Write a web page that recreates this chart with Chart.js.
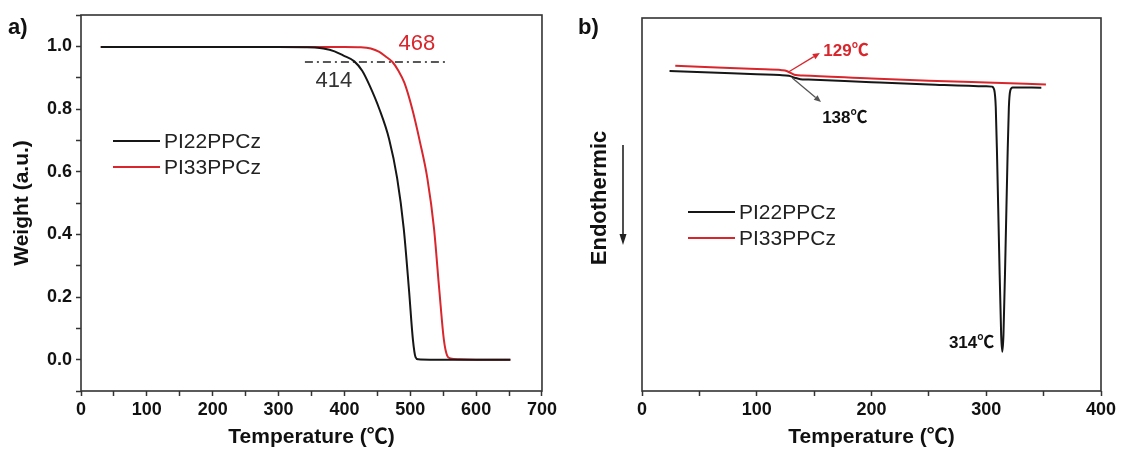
<!DOCTYPE html>
<html>
<head>
<meta charset="utf-8">
<script src="https://cdn.jsdelivr.net/npm/chart.js@4.4.1/dist/chart.umd.min.js"></script>
<style>
  html, body { margin: 0; padding: 0; background: #fff; }
  #wrap { position: relative; width: 1123px; height: 450px; overflow: hidden; }
  #c1 { position: absolute; left: 0; top: 0; }
  #c2 { position: absolute; left: 560px; top: 0; }
</style>
</head>
<body>
<div id="wrap">
  <canvas id="c1" width="560" height="450"></canvas>
  <canvas id="c2" width="563" height="450"></canvas>
</div>
<script>
// ---------- DATA ----------
const seriesNames = ['PI22PPCz', 'PI33PPCz'];

// (a) TGA
const tgaTempPI22   = [30, 100, 200, 300, 340, 355, 368, 385, 398, 415, 427, 438, 453, 468, 480, 490, 498, 504, 508, 512, 530, 580, 652];
const tgaWeightPI22 = [0.998, 0.998, 0.998, 0.998, 0.997, 0.996, 0.993, 0.984, 0.971, 0.952, 0.922, 0.876, 0.80, 0.703, 0.58, 0.42, 0.224, 0.064, 0.008, 0.001, 0, 0, 0];
const tgaTempPI33   = [30, 100, 200, 300, 400, 425, 440, 453, 463, 473, 482, 491, 503, 515, 526, 536, 544, 551, 556, 561, 575, 600, 652];
const tgaWeightPI33 = [0.998, 0.998, 0.998, 0.998, 0.998, 0.997, 0.993, 0.982, 0.967, 0.95, 0.922, 0.884, 0.80, 0.692, 0.578, 0.42, 0.224, 0.064, 0.013, 0.004, 0.001, 0, 0];
const t5Temps  = [340, 553];
const t5Weight = [0.95, 0.95];
const t5Labels = ['414', '468'];

// (b) DSC (arbitrary heat-flow units)
const dscTempPI22 = [24, 60, 100, 120, 128, 133, 138, 145, 200, 250, 300, 305, 307, 308.3, 309.5, 311.2, 313, 314, 315, 316.8, 318.5, 319.7, 321, 323, 348];
const dscHeatPI22 = [85.8, 85.4, 84.9, 84.7, 84.5, 84.0, 83.6, 83.5, 82.8, 82.2, 81.7, 81.6, 80.7, 76, 62, 38, 15, 10.5, 15, 38, 62, 76, 80.6, 81.4, 81.3];
const dscTempPI33 = [29, 60, 100, 122, 126, 130, 134, 140, 200, 250, 300, 352];
const dscHeatPI33 = [87.2, 86.8, 86.3, 86.0, 85.8, 85.2, 84.7, 84.6, 83.8, 83.2, 82.7, 82.2];
const dscLabels = ['129℃', '138℃', '314℃'];

// axis tick labels
const tgaXTicks = [0, 100, 200, 300, 400, 500, 600, 700];
const tgaYTicks = ['0.0', '0.2', '0.4', '0.6', '0.8', '1.0'];
const dscXTicks = [0, 100, 200, 300, 400];

// ---------- STYLE ----------
const RED = '#d8262c';
const BLACK = '#161616';
const FONT = "'Liberation Sans', Arial, 'Noto Sans CJK SC', sans-serif";
const AXIS = '#333';

function zip(xs, ys) { return xs.map((x, i) => ({ x: x, y: ys[i] })); }

function drawArrow(ctx, x1, y1, x2, y2, color) {
  ctx.save();
  ctx.strokeStyle = color; ctx.fillStyle = color; ctx.lineWidth = 1.3;
  const a = Math.atan2(y2 - y1, x2 - x1);
  const hl = 7, hw = 3;
  ctx.beginPath(); ctx.moveTo(x1, y1); ctx.lineTo(x2 - hl * Math.cos(a), y2 - hl * Math.sin(a)); ctx.stroke();
  ctx.beginPath();
  ctx.moveTo(x2, y2);
  ctx.lineTo(x2 - hl * Math.cos(a) + hw * Math.sin(a), y2 - hl * Math.sin(a) - hw * Math.cos(a));
  ctx.lineTo(x2 - hl * Math.cos(a) - hw * Math.sin(a), y2 - hl * Math.sin(a) + hw * Math.cos(a));
  ctx.closePath(); ctx.fill();
  ctx.restore();
}

function drawFrame(chart) {
  const { ctx, chartArea: a } = chart;
  ctx.save();
  ctx.strokeStyle = AXIS; ctx.lineWidth = 1.6;
  ctx.strokeRect(a.left, a.top, a.right - a.left, a.bottom - a.top);
  ctx.restore();
}

function drawLegend(ctx, x, y, gap, names, colors) {
  ctx.save();
  ctx.font = '21px ' + FONT;
  ctx.textBaseline = 'middle'; ctx.textAlign = 'left';
  names.forEach((n, i) => {
    const yy = y + i * gap;
    ctx.strokeStyle = colors[i]; ctx.lineWidth = 2.2;
    ctx.beginPath(); ctx.moveTo(x, yy); ctx.lineTo(x + 47, yy); ctx.stroke();
    ctx.fillStyle = '#222';
    ctx.fillText(n, x + 51, yy + 1);
  });
  ctx.restore();
}

const tickFont = { family: FONT, size: 18, weight: 'bold' };
const titleFont = { family: FONT, size: 21, weight: 'bold' };

// ---------- (a) TGA ----------
const tgaPlugin = {
  id: 'tgaDeco',
  afterDraw(chart) {
    const ctx = chart.ctx, xs = chart.scales.x, ys = chart.scales.y;
    drawFrame(chart);
    ctx.save();
    ctx.textAlign = 'center'; ctx.textBaseline = 'middle';
    ctx.font = '22px ' + FONT;
    ctx.fillStyle = '#333';
    ctx.fillText(t5Labels[0], xs.getPixelForValue(384), ys.getPixelForValue(0.89));
    ctx.fillStyle = RED;
    ctx.fillText(t5Labels[1], xs.getPixelForValue(510), ys.getPixelForValue(1.007));
    ctx.fillStyle = '#111';
    ctx.font = 'bold 22px ' + FONT;
    ctx.textAlign = 'left';
    ctx.fillText('a)', 8, 28);
    ctx.restore();
    drawLegend(ctx, 113, 141, 26, seriesNames, [BLACK, RED]);
  }
};

new Chart(document.getElementById('c1'), {
  type: 'line',
  data: {
    datasets: [
      { label: seriesNames[0], data: zip(tgaTempPI22, tgaWeightPI22), borderColor: BLACK, borderWidth: 2, pointRadius: 0, cubicInterpolationMode: 'monotone' },
      { label: seriesNames[1], data: zip(tgaTempPI33, tgaWeightPI33), borderColor: RED, borderWidth: 2, pointRadius: 0, cubicInterpolationMode: 'monotone' },
      { label: 'T5%', data: zip(t5Temps, t5Weight), borderColor: '#222', borderWidth: 1.5, borderDash: [8, 4, 2, 4], pointRadius: 0 }
    ]
  },
  options: {
    responsive: false, animation: false, devicePixelRatio: 1,
    layout: { padding: { left: 0, right: 12, top: 15, bottom: 0 } },
    plugins: { legend: { display: false }, tooltip: { enabled: false } },
    scales: {
      x: {
        type: 'linear', min: 0, max: 700,
        ticks: { stepSize: 50, color: '#111', font: tickFont, padding: 3, maxRotation: 0, autoSkip: false,
          callback: v => tgaXTicks.includes(v) ? String(v) : '' },
        grid: { drawOnChartArea: false, drawTicks: true, tickLength: 5, tickColor: AXIS, tickWidth: 1.5 },
        border: { display: false },
        title: { display: true, text: 'Temperature (℃)', color: '#111', font: titleFont, padding: { top: 0, bottom: 0 } },
        afterFit: s => { s.height = 59; }
      },
      y: {
        type: 'linear', min: -0.1, max: 1.1,
        ticks: { stepSize: 0.1, color: '#111', font: tickFont, padding: 4, autoSkip: false,
          callback: v => { const k = Math.round(v * 10); return (k >= 0 && k <= 10 && k % 2 === 0) ? tgaYTicks[k / 2] : ''; } },
        grid: { drawOnChartArea: false, drawTicks: true, tickLength: 5, tickColor: AXIS, tickWidth: 1.5 },
        border: { display: false },
        title: { display: true, text: 'Weight (a.u.)', color: '#111', font: titleFont, padding: { top: 10, bottom: 0 } },
        afterFit: s => { s.width = 81; }
      }
    }
  },
  plugins: [tgaPlugin]
});

// ---------- (b) DSC ----------
const dscPlugin = {
  id: 'dscDeco',
  afterDraw(chart) {
    const ctx = chart.ctx, xs = chart.scales.x, ys = chart.scales.y;
    drawFrame(chart);
    drawArrow(ctx, xs.getPixelForValue(128), ys.getPixelForValue(85.6), xs.getPixelForValue(155), ys.getPixelForValue(90.6), RED);
    drawArrow(ctx, xs.getPixelForValue(131), ys.getPixelForValue(83.9), xs.getPixelForValue(156), ys.getPixelForValue(77.5), '#555');
    ctx.save();
    ctx.textBaseline = 'middle';
    ctx.font = 'bold 17px ' + FONT;
    ctx.textAlign = 'left';
    ctx.fillStyle = RED;
    ctx.fillText(dscLabels[0], xs.getPixelForValue(158), ys.getPixelForValue(91.1));
    ctx.fillStyle = '#111';
    ctx.fillText(dscLabels[1], xs.getPixelForValue(157), ys.getPixelForValue(73.1));
    ctx.textAlign = 'right';
    ctx.fillText(dscLabels[2], xs.getPixelForValue(307), ys.getPixelForValue(12.9));
    ctx.save();
    ctx.translate(40, 198);
    ctx.rotate(-Math.PI / 2);
    ctx.textAlign = 'center';
    ctx.font = 'bold 22px ' + FONT;
    ctx.fillText('Endothermic', 0, 0);
    ctx.restore();
    ctx.strokeStyle = '#222'; ctx.lineWidth = 1.6;
    ctx.beginPath(); ctx.moveTo(63, 145); ctx.lineTo(63, 236); ctx.stroke();
    ctx.fillStyle = '#222';
    ctx.beginPath(); ctx.moveTo(63, 245); ctx.lineTo(59.5, 234); ctx.lineTo(66.5, 234); ctx.closePath(); ctx.fill();
    ctx.font = 'bold 22px ' + FONT;
    ctx.textAlign = 'left';
    ctx.fillStyle = '#111';
    ctx.fillText('b)', 18, 28);
    ctx.restore();
    drawLegend(ctx, 128, 212, 26, seriesNames, [BLACK, RED]);
  }
};

new Chart(document.getElementById('c2'), {
  type: 'line',
  data: {
    datasets: [
      { label: seriesNames[0], data: zip(dscTempPI22, dscHeatPI22), borderColor: BLACK, borderWidth: 2, pointRadius: 0, cubicInterpolationMode: 'monotone' },
      { label: seriesNames[1], data: zip(dscTempPI33, dscHeatPI33), borderColor: RED, borderWidth: 2, pointRadius: 0, cubicInterpolationMode: 'monotone' }
    ]
  },
  options: {
    responsive: false, animation: false, devicePixelRatio: 1,
    layout: { padding: { left: 0, right: 22, top: 18, bottom: 0 } },
    plugins: { legend: { display: false }, tooltip: { enabled: false } },
    scales: {
      x: {
        type: 'linear', min: 0, max: 400,
        ticks: { stepSize: 50, color: '#111', font: tickFont, padding: 3, maxRotation: 0, autoSkip: false,
          callback: v => dscXTicks.includes(v) ? String(v) : '' },
        grid: { drawOnChartArea: false, drawTicks: true, tickLength: 5, tickColor: AXIS, tickWidth: 1.5 },
        border: { display: false },
        title: { display: true, text: 'Temperature (℃)', color: '#111', font: titleFont, padding: { top: 0, bottom: 0 } },
        afterFit: s => { s.height = 59; }
      },
      y: {
        type: 'linear', min: 0, max: 100,
        ticks: { display: false },
        grid: { display: false },
        border: { display: false },
        afterFit: s => { s.width = 82; }
      }
    }
  },
  plugins: [dscPlugin]
});
</script>
</body>
</html>
